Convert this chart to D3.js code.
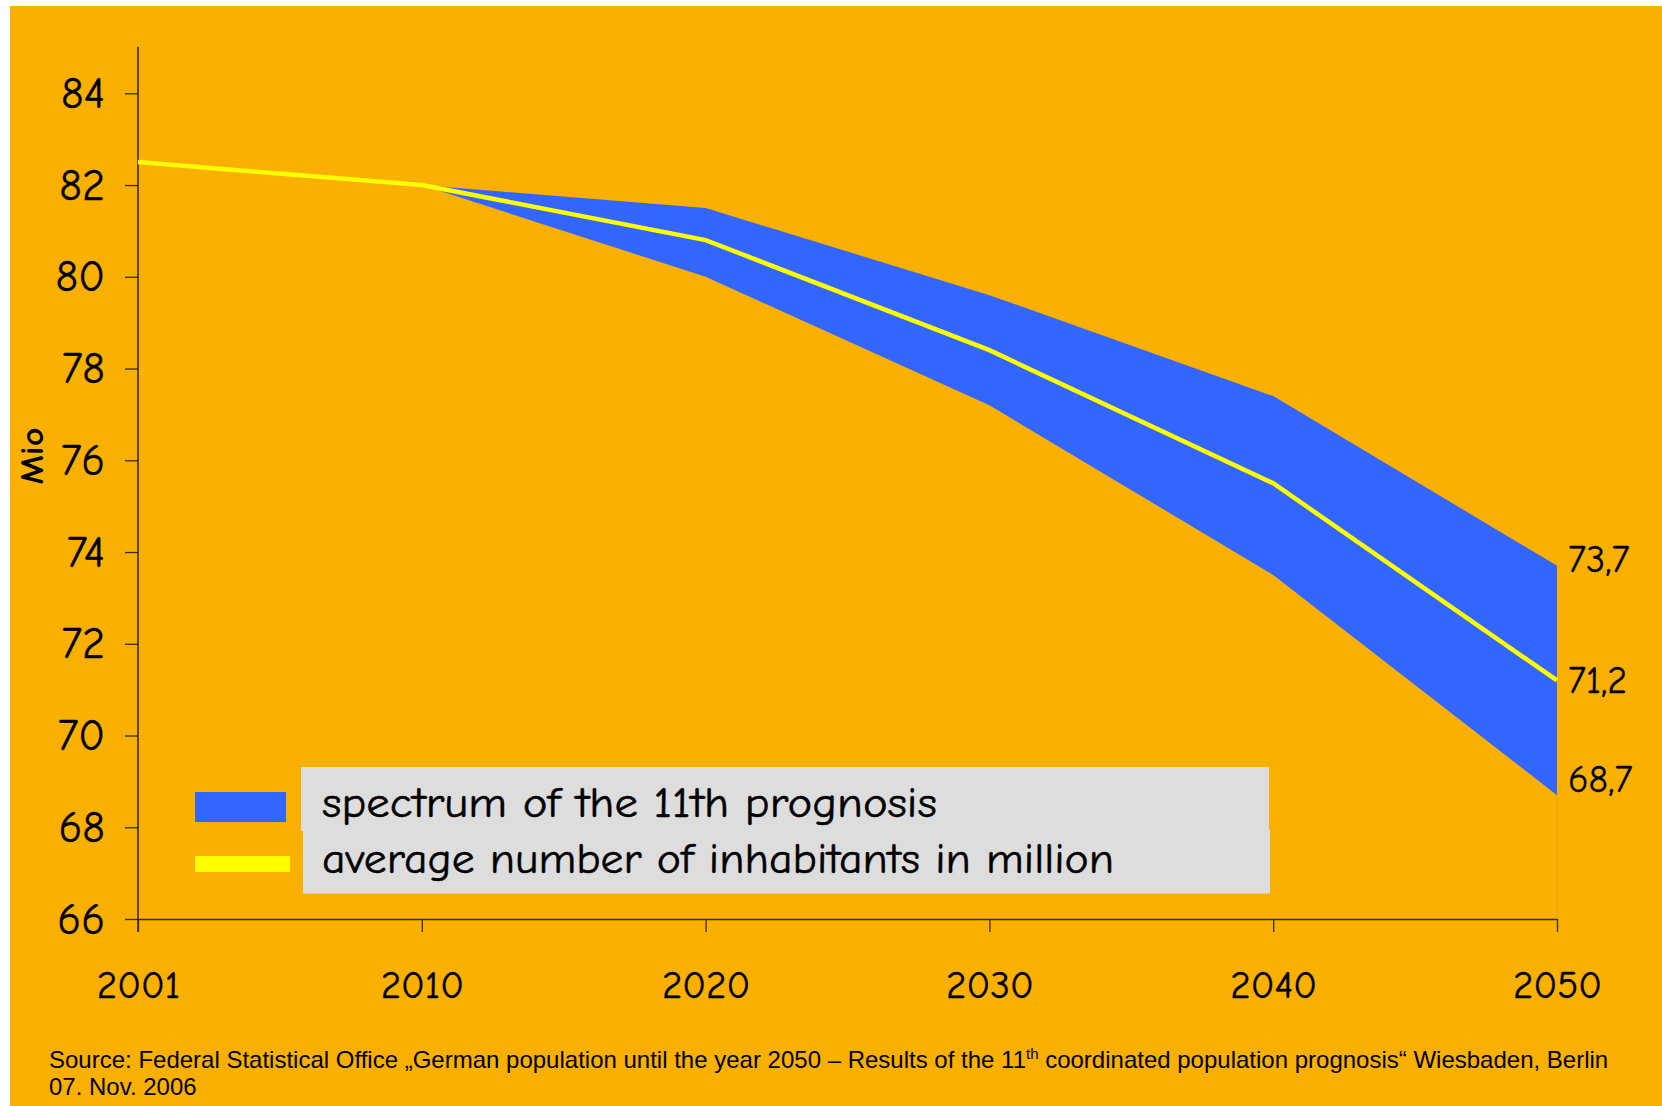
<!DOCTYPE html>
<html>
<head>
<meta charset="utf-8">
<script src="https://cdnjs.cloudflare.com/ajax/libs/d3/7.8.5/d3.min.js"></script>
<style>
  body { margin: 0; background: #fff; }
  svg { display: block; }
</style>
</head>
<body>
<div id="chart"></div>
<script>
// data (million inhabitants)
var years = ["2001", "2010", "2020", "2030", "2040", "2050"];
var average = [82.5, 82.0, 80.8, 78.4, 75.5, 71.2];
var upper = [null, 82.0, 81.5, 79.6, 77.4, 73.7];
var lower = [null, 82.0, 80.0, 77.2, 73.5, 68.7];
var yTicks = [66, 68, 70, 72, 74, 76, 78, 80, 82, 84];
var endLabels = ["73,7", "71,2", "68,7"];
var legendLabels = ["spectrum of the 11th prognosis", "average number of inhabitants in million"];

var width = 1662, height = 1106;
var comic = "'Comic Sans MS', 'Comic Neue', 'Noto Sans', sans-serif";

var svg = d3.select("#chart").append("svg")
  .attr("width", width)
  .attr("height", height);

svg.append("rect")
  .attr("x", 10).attr("y", 6)
  .attr("width", width - 10).attr("height", height - 6)
  .attr("fill", "#fab000");

var x = d3.scalePoint().domain(years).range([138, 1557]);
var y = d3.scaleLinear().domain([66, 84]).range([919, 93.3]);

var rows = years.map(function(yr, i){
  return {year: yr, avg: average[i], hi: upper[i], lo: lower[i]};
});

// band
var area = d3.area()
  .defined(function(d){ return d.hi != null; })
  .x(function(d){ return x(d.year); })
  .y0(function(d){ return y(d.lo); })
  .y1(function(d){ return y(d.hi); });

svg.append("path")
  .datum(rows)
  .attr("d", area)
  .attr("fill", "#3366ff");

// faint edge under the band at 2050
svg.append("line")
  .attr("x1", x("2050")).attr("x2", x("2050"))
  .attr("y1", y(68.7)).attr("y2", y(66))
  .attr("stroke", "#e8a400").attr("stroke-width", 1);

// y axis
var yAxis = svg.append("g")
  .attr("transform", "translate(" + x("2001") + ",0)")
  .call(d3.axisLeft(y).tickValues(yTicks).tickSize(13).tickPadding(20));
yAxis.select(".domain").remove();
yAxis.append("line")
  .attr("x1", 0).attr("x2", 0).attr("y1", 46.7).attr("y2", 931.7)
  .attr("stroke", "#000").attr("stroke-width", 1.2);
yAxis.selectAll(".tick line").attr("stroke", "#3a2c00").attr("stroke-width", 1.3);
yAxis.selectAll("text")
  .attr("font-family", comic)
  .attr("font-size", 44)
  .attr("stroke", "#000").attr("stroke-width", 0.4)
  .attr("fill", "#000");

// x axis
var xAxis = svg.append("g")
  .attr("transform", "translate(0," + y(66) + ")")
  .call(d3.axisBottom(x).tickSize(13).tickPadding(38).tickSizeOuter(0));
xAxis.select(".domain").attr("stroke", "#3a2c00").attr("stroke-width", 1.6);
xAxis.selectAll(".tick line").attr("stroke", "#3a2c00").attr("stroke-width", 1.3);
xAxis.selectAll("text")
  .attr("font-family", comic)
  .attr("font-size", 39)
  .attr("stroke", "#000").attr("stroke-width", 0.4)
  .attr("fill", "#000");

// average line
var line = d3.line()
  .x(function(d){ return x(d.year); })
  .y(function(d){ return y(d.avg); });

svg.append("path")
  .datum(rows)
  .attr("d", line)
  .attr("fill", "none")
  .attr("stroke", "#ffff00")
  .attr("stroke-width", 4.5);

// end values at 2050
var last = rows[rows.length - 1];
var endVals = [last.hi, last.avg, last.lo];
var endDy = [6, 13, -3];
svg.selectAll(".endlab")
  .data(endLabels)
  .enter().append("text")
  .attr("class", "endlab")
  .attr("x", x("2050") + 11)
  .attr("y", function(d, i){ return y(endVals[i]) + endDy[i]; })
  .attr("font-family", comic)
  .attr("font-size", 38)
  .attr("stroke", "#000").attr("stroke-width", 0.3)
  .attr("fill", "#000")
  .text(function(d){ return d; });

// y title
svg.append("text")
  .attr("transform", "translate(43,456) rotate(-90)")
  .attr("text-anchor", "middle")
  .attr("font-family", comic)
  .attr("font-weight", "bold")
  .attr("font-size", 33)
  .attr("textLength", 57)
  .attr("lengthAdjust", "spacingAndGlyphs")
  .attr("fill", "#000")
  .text("Mio");

// legend
var legend = svg.append("g");
legend.append("rect").attr("x", 301).attr("y", 767).attr("width", 968).attr("height", 64).attr("fill", "#dddddd");
legend.append("rect").attr("x", 303).attr("y", 830).attr("width", 967).attr("height", 63.5).attr("fill", "#dddddd");
legend.append("rect").attr("x", 195).attr("y", 792).attr("width", 91).attr("height", 30).attr("fill", "#3366ff");
legend.append("rect").attr("x", 195).attr("y", 856).attr("width", 95).attr("height", 16).attr("fill", "#ffff00");

var legendBase = [817, 873];
var legendLen = [615, 792];
legend.selectAll(".leg")
  .data(legendLabels)
  .enter().append("text")
  .attr("class", "leg")
  .attr("x", 322)
  .attr("y", function(d, i){ return legendBase[i]; })
  .attr("font-family", comic)
  .attr("font-size", 43)
  .attr("textLength", function(d, i){ return legendLen[i]; })
  .attr("lengthAdjust", "spacingAndGlyphs")
  .attr("stroke", "#000").attr("stroke-width", 0.5)
  .attr("fill", "#000")
  .text(function(d){ return d; });

// source note
var src = svg.append("text")
  .attr("x", 49)
  .attr("y", 1067.5)
  .attr("font-family", "'Liberation Sans', Arial, sans-serif")
  .attr("font-size", 24)
  .attr("fill", "#000");
src.append("tspan").text("Source: Federal Statistical Office \u201EGerman population until the year 2050 \u2013 Results of the 11");
src.append("tspan").attr("font-size", 15).attr("dy", -9).text("th");
src.append("tspan").attr("dy", 9).text(" coordinated population prognosis\u201C Wiesbaden, Berlin");

svg.append("text")
  .attr("x", 49)
  .attr("y", 1095)
  .attr("font-family", "'Liberation Sans', Arial, sans-serif")
  .attr("font-size", 24)
  .attr("fill", "#000")
  .text("07. Nov. 2006");
</script>
</body>
</html>
